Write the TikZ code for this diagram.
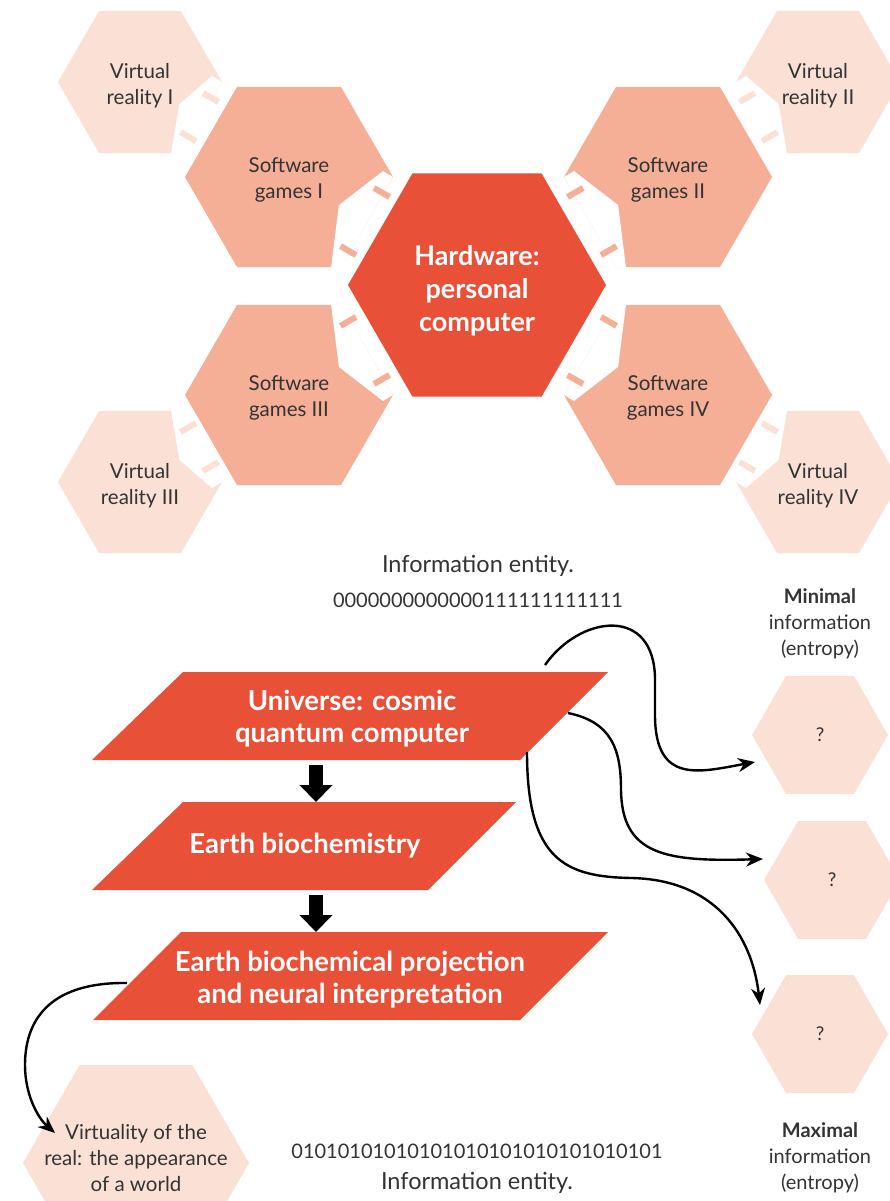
\documentclass[tikz,border=0pt]{standalone}
\usepackage{fontspec}
\setmainfont{Lato}
\usetikzlibrary{shapes.geometric,arrows.meta,calc}

\definecolor{hwred}{HTML}{E85038}
\definecolor{sgpink}{HTML}{F5AF96}
\definecolor{vrpink}{HTML}{FBE0D5}
\definecolor{txtgray}{HTML}{333333}

% white notch with two stubs on the edge of a hexagon
% #1 node, #2 radius, #3 xscale, #4 yscale, #5 colour
\newcommand{\hexcut}[5]{%
  \begin{scope}[shift={(#1.center)}, xscale=#3, yscale=#4]
    \fill[white] (#2,0) -- ({#2-10},-6) -- ({0.48*#2},{0.27*#2})
      -- ({0.5*#2-10},{0.866*#2+0.5}) -- ({0.5*#2},{0.866*#2+0.5}) -- cycle;
    \draw[#5, line width=6pt] ({#2-19},11) -- ({#2-3.5},20);
    \draw[#5, line width=6pt] ({0.5*#2-0.5},{0.866*#2-21}) -- ({0.5*#2+15},{0.866*#2-12});
  \end{scope}}

\begin{document}
\begin{tikzpicture}[x=1pt, y=-1pt,
  hexa/.style={regular polygon, regular polygon sides=6, inner sep=0pt},
  vrhex/.style={hexa, fill=vrpink, minimum size=164pt},
  sghex/.style={hexa, fill=sgpink, minimum size=208pt},
  qhex/.style={hexa, fill=vrpink, minimum size=136pt},
  hextext/.style={text=txtgray, align=center, font=\fontsize{20.5}{26}\selectfont},
  slabtext/.style={text=white, align=center, font=\bfseries\fontsize{27.5}{32}\selectfont},
  bigarrow/.style={line width=14pt, -{Triangle[length=17pt, width=32pt]}},
  curvy/.style={line width=2.4pt, -{Stealth[length=17pt, width=14pt]}},
  info/.style={text=txtgray, align=center, font=\fontsize{20}{26}\selectfont}
]

% 1. Page
\useasboundingbox (0,0) rectangle (890,1201);
\clip (0,0) rectangle (890,1201);
\fill[white] (0,0) rectangle (890,1201);

% 2. Virtual reality hexagons
\node[vrhex] (vr1) at (140,82) {};
\node[vrhex] (vr2) at (818,82) {};
\node[vrhex] (vr3) at (140,482) {};
\node[vrhex] (vr4) at (818,482) {};
\hexcut{vr1}{82}{1}{1}{vrpink}
\hexcut{vr2}{82}{-1}{1}{vrpink}
\hexcut{vr3}{82}{1}{-1}{vrpink}
\hexcut{vr4}{82}{-1}{-1}{vrpink}

% 3. Software hexagons
\node[sghex] (sg1) at (289,177) {};
\node[sghex] (sg2) at (668,177) {};
\node[sghex] (sg3) at (289,395) {};
\node[sghex] (sg4) at (668,395) {};
\hexcut{sg1}{104}{1}{1}{sgpink}
\hexcut{sg2}{104}{-1}{1}{sgpink}
\hexcut{sg3}{104}{1}{-1}{sgpink}
\hexcut{sg4}{104}{-1}{-1}{sgpink}

% 4. Hardware hexagon
\node[hexa, fill=hwred, minimum size=258pt] (hw) at (477,285) {};
\node[text=white, align=center, font=\bfseries\fontsize{27}{33}\selectfont]
  (hwt) at ([yshift=-6pt]hw) {Hardware:\\personal\\computer};

% hexagon labels
\node[hextext] (vr1t) at ([yshift=-4pt]vr1) {Virtual\\reality I};
\node[hextext] (vr2t) at ([yshift=-4pt]vr2) {Virtual\\reality II};
\node[hextext] (vr3t) at ([yshift=-4pt]vr3) {Virtual\\reality III};
\node[hextext] (vr4t) at ([yshift=-4pt]vr4) {Virtual\\reality IV};
\node[hextext] (sg1t) at ([yshift=-3pt]sg1) {Software\\games I};
\node[hextext] (sg2t) at ([yshift=-3pt]sg2) {Software\\games II};
\node[hextext] (sg3t) at ([yshift=-3pt]sg3) {Software\\games III};
\node[hextext] (sg4t) at ([yshift=-3pt]sg4) {Software\\games IV};

% 5. Information entities
\node[info, font=\fontsize{23.5}{26}\selectfont] (ent1) at (478,566) {Information entity.};
\node[info] (bits1) at (478,600) {0000000000000111111111111};
\node[info] (bits2) at (477,1151) {01010101010101010101010101010101};
\node[info, font=\fontsize{23.5}{26}\selectfont] (ent2) at (477,1183) {Information entity.};

% 6. Flow of parallelograms
\fill[hwred] (183,672) -- (608,672) -- (520,760) -- (92,760) -- cycle;
\fill[hwred] (183,802) -- (516,802) -- (428,890) -- (92,890) -- cycle;
\fill[hwred] (181,932) -- (608,932) -- (520,1020) -- (93,1020) -- cycle;
\node[slabtext] (univ) at (352,719) {Universe: cosmic\\quantum computer};
\node[slabtext] (bio) at (305,846) {Earth biochemistry};
\node[slabtext] (proj) at (350,980) {Earth biochemical projection\\and neural interpretation};
\draw[bigarrow] ($(univ)+(-36,46)$) -- ($(bio)+(11,-44)$);
\draw[bigarrow] ($(bio)+(11,49)$) -- ($(proj)+(-34,-48)$);

% 7. Entropy hexagons
\node[info] (minlab) at (820,624) {\textbf{Minimal}\\information\\(entropy)};
\node[qhex, hextext, font=\fontsize{19}{20}\selectfont] (q1) at (820,735) {?};
\node[qhex, hextext, font=\fontsize{19}{20}\selectfont] (q2) at (832,880) {?};
\node[qhex, hextext, font=\fontsize{19}{20}\selectfont] (q3) at (820,1034) {?};
\node[info] (maxlab) at (820,1158) {\textbf{Maximal}\\information\\(entropy)};
\node[hexa, fill=vrpink, minimum size=226pt] (virt) at (136,1163) {};
\node[hextext] (virtt) at (136,1158) {Virtuality of the\\real: the appearance\\of a world};

% 8. Curved arrows
\draw[curvy] ($(univ)+(193,-54)$) .. controls (580,615) and (655,605) .. (655,680)
  -- (655,715) .. controls (655,785) and (700,772) .. ($(q1)+(-65,27)$);
\draw[curvy] ($(univ)+(216,-6)$) .. controls (612,722) and (621,750) .. (621,790)
  .. controls (622,855) and (665,862) .. ($(q2)+(-69,-21)$);
\draw[curvy] ($(univ)+(175,33)$) .. controls (527,860) and (565,877) .. (632,878)
  .. controls (715,880) and (752,935) .. ($(q3)+(-60,-29)$);
\draw[curvy] ($(proj)+(-223,3)$) .. controls (55,982) and (25,1015) .. (25,1065)
  .. controls (25,1095) and (38,1118) .. ($(virt)+(-81,-30)$);

\end{tikzpicture}
\end{document}
